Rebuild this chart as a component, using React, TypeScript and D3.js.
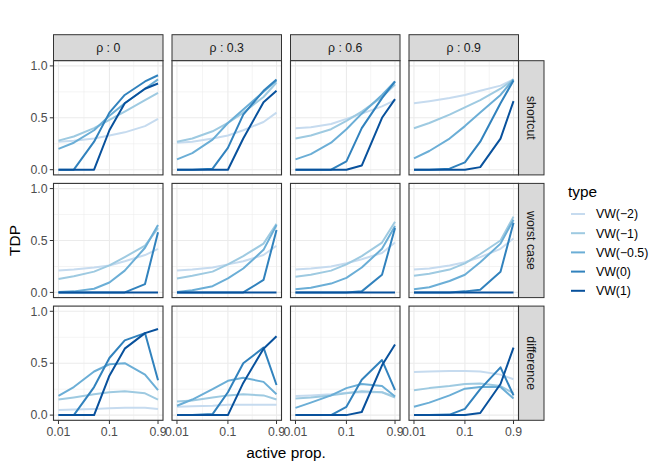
import * as d3 from 'd3';

// x grid of active proportions
const activeProp = [0.01, 0.02, 0.05, 0.1, 0.2, 0.5, 0.9];
const xBreaks = [0.01, 0.1, 0.9];
const xBreakLabels = ['0.01', '0.1', '0.9'];
const yBreaks = [0, 0.5, 1];
const yMinor = [0.25, 0.75];

const rhoLabels = ['ρ : 0', 'ρ : 0.3', 'ρ : 0.6', 'ρ : 0.9'];
const metricLabels = ['shortcut', 'worst case', 'difference'];
const typeLabels = ['VW(−2)', 'VW(−1)', 'VW(−0.5)', 'VW(0)', 'VW(1)'];
const typeColors = ['#c6dbef', '#9ecae1', '#6baed6', '#3182bd', '#08519c'];

// rows: VW(-2), VW(-1), VW(-0.5), VW(0), VW(1)
const shortcutRho0 = [
    [0.27, 0.28, 0.30, 0.33, 0.36, 0.42, 0.49],
    [0.28, 0.32, 0.40, 0.48, 0.56, 0.67, 0.74],
    [0.20, 0.26, 0.38, 0.52, 0.64, 0.78, 0.87],
    [0, 0, 0.27, 0.55, 0.72, 0.85, 0.91],
    [0, 0, 0, 0.38, 0.64, 0.78, 0.83],
];
const shortcutRho3 = [
    [0.26, 0.27, 0.30, 0.33, 0.38, 0.46, 0.55],
    [0.27, 0.30, 0.37, 0.45, 0.55, 0.70, 0.84],
    [0.10, 0.16, 0.29, 0.45, 0.58, 0.75, 0.86],
    [0, 0, 0.01, 0.21, 0.53, 0.76, 0.87],
    [0, 0, 0, 0, 0.30, 0.65, 0.76],
];
const shortcutRho6 = [
    [0.40, 0.41, 0.44, 0.49, 0.54, 0.61, 0.67],
    [0.30, 0.33, 0.39, 0.47, 0.56, 0.70, 0.82],
    [0.10, 0.15, 0.26, 0.39, 0.54, 0.72, 0.85],
    [0, 0, 0, 0.08, 0.40, 0.69, 0.85],
    [0, 0, 0, 0, 0.04, 0.50, 0.68],
];
const shortcutRho9 = [
    [0.64, 0.66, 0.69, 0.72, 0.76, 0.81, 0.87],
    [0.40, 0.45, 0.53, 0.60, 0.67, 0.78, 0.87],
    [0.11, 0.18, 0.30, 0.42, 0.55, 0.72, 0.87],
    [0, 0, 0.01, 0.07, 0.27, 0.64, 0.86],
    [0, 0, 0, 0, 0.025, 0.30, 0.66],
];

const worstRho0 = [
    [0.21, 0.22, 0.24, 0.26, 0.30, 0.36, 0.42],
    [0.13, 0.155, 0.20, 0.26, 0.34, 0.45, 0.62],
    [0.005, 0.01, 0.035, 0.095, 0.21, 0.43, 0.65],
    [0, 0, 0, 0, 0, 0.08, 0.58],
    [0, 0, 0, 0, 0, 0, 0],
];
const worstRho3 = [
    [0.21, 0.22, 0.24, 0.27, 0.30, 0.36, 0.45],
    [0.135, 0.16, 0.20, 0.27, 0.35, 0.47, 0.66],
    [0.005, 0.02, 0.06, 0.135, 0.23, 0.41, 0.65],
    [0, 0, 0, 0, 0, 0.12, 0.60],
    [0, 0, 0, 0, 0, 0, 0],
];
const worstRho6 = [
    [0.22, 0.23, 0.25, 0.28, 0.32, 0.38, 0.48],
    [0.15, 0.17, 0.21, 0.27, 0.35, 0.48, 0.68],
    [0.03, 0.045, 0.085, 0.14, 0.24, 0.42, 0.64],
    [0, 0, 0, 0, 0.01, 0.17, 0.62],
    [0, 0, 0, 0, 0, 0, 0],
];
const worstRho9 = [
    [0.22, 0.23, 0.26, 0.29, 0.34, 0.42, 0.52],
    [0.16, 0.18, 0.22, 0.28, 0.37, 0.50, 0.73],
    [0.03, 0.05, 0.11, 0.17, 0.29, 0.47, 0.70],
    [0, 0, 0, 0.01, 0.025, 0.20, 0.67],
    [0, 0, 0, 0, 0, 0, 0],
];

const diffRho0 = [
    [0.05, 0.055, 0.06, 0.065, 0.07, 0.07, 0.06],
    [0.15, 0.17, 0.20, 0.22, 0.23, 0.21, 0.15],
    [0.185, 0.27, 0.42, 0.49, 0.50, 0.39, 0.24],
    [0, 0, 0.27, 0.55, 0.72, 0.79, 0.335],
    [0, 0, 0, 0.38, 0.64, 0.79, 0.83],
];
const diffRho3 = [
    [0.08, 0.085, 0.09, 0.10, 0.10, 0.10, 0.10],
    [0.13, 0.14, 0.17, 0.19, 0.20, 0.19, 0.15],
    [0.09, 0.15, 0.25, 0.33, 0.36, 0.32, 0.20],
    [0, 0, 0.01, 0.22, 0.50, 0.65, 0.29],
    [0, 0, 0, 0, 0.31, 0.64, 0.76],
];
const diffRho6 = [
    [0.185, 0.19, 0.20, 0.215, 0.22, 0.22, 0.18],
    [0.16, 0.17, 0.19, 0.21, 0.23, 0.22, 0.17],
    [0.07, 0.12, 0.19, 0.26, 0.30, 0.28, 0.18],
    [0, 0, 0, 0.08, 0.34, 0.53, 0.24],
    [0, 0, 0, 0, 0.03, 0.48, 0.68],
];
const diffRho9 = [
    [0.415, 0.42, 0.425, 0.425, 0.42, 0.39, 0.345],
    [0.24, 0.26, 0.28, 0.30, 0.305, 0.28, 0.21],
    [0.08, 0.12, 0.19, 0.255, 0.27, 0.27, 0.16],
    [0, 0, 0.005, 0.06, 0.25, 0.46, 0.19],
    [0, 0, 0, 0, 0.02, 0.30, 0.65],
];

const panels = [
    [shortcutRho0, shortcutRho3, shortcutRho6, shortcutRho9],
    [worstRho0, worstRho3, worstRho6, worstRho9],
    [diffRho0, diffRho3, diffRho6, diffRho9],
];

const FONT = '"Liberation Sans", Arial, Helvetica, sans-serif';

export default function App() {
    const width = 664;
    const height = 470;

    const left0 = 53.5;
    const colStep = 118.5;
    const panelW = 109.5;
    const top0 = 60.7;
    const rowStep = 122.7;
    const panelH = 114.2;
    const stripH = 26;

    // ggplot style 5% expansion on the log axis
    const lo = Math.log10(0.01);
    const hi = Math.log10(0.9);
    const pad = (hi - lo) * 0.05;
    const x = d3.scaleLog()
        .domain([Math.pow(10, lo - pad), Math.pow(10, hi + pad)])
        .range([0, panelW]);
    const y = d3.scaleLinear().domain([-0.05, 1.05]).range([panelH, 0]);

    const xMinor = [
        Math.pow(10, (Math.log10(0.01) + Math.log10(0.1)) / 2),
        Math.pow(10, (Math.log10(0.1) + Math.log10(0.9)) / 2),
    ];

    const line = d3.line<number>()
        .x((_, i) => x(activeProp[i]))
        .y(d => y(d));

    const lastLeft = left0 + 3 * colStep;
    const plotRight = lastLeft + panelW;
    const bottom = top0 + 2 * rowStep + panelH;

    return (
        <svg
            width={width}
            height={height}
            style={{ position: 'absolute', left: 0, top: 0, background: '#fff', fontFamily: FONT }}
        >
            <rect width={width} height={height} fill="#fff" />

            {/* column strips */}
            {rhoLabels.map((lab, c) => (
                <g key={lab} transform={`translate(${left0 + c * colStep},${top0 - stripH})`}>
                    <rect width={panelW} height={stripH} fill="#d9d9d9" stroke="#333333" strokeWidth={1} />
                    <text x={panelW / 2} y={stripH / 2 + 4.3} textAnchor="middle" fontSize={12.3} fill="#1a1a1a">
                        {lab}
                    </text>
                </g>
            ))}

            {/* row strips */}
            {metricLabels.map((lab, r) => (
                <g key={lab} transform={`translate(${plotRight},${top0 + r * rowStep})`}>
                    <rect width={stripH - 0.5} height={panelH} fill="#d9d9d9" stroke="#333333" strokeWidth={1} />
                    <text
                        transform={`translate(${stripH / 2 - 4.3},${panelH / 2}) rotate(90)`}
                        textAnchor="middle"
                        fontSize={12.3}
                        fill="#1a1a1a"
                    >
                        {lab}
                    </text>
                </g>
            ))}

            {panels.map((row, r) =>
                row.map((series, c) => (
                    <g key={`${r}-${c}`} transform={`translate(${left0 + c * colStep},${top0 + r * rowStep})`}>
                        <rect width={panelW} height={panelH} fill="#fff" />
                        {yMinor.map(v => (
                            <line key={`ym${v}`} x1={0} x2={panelW} y1={y(v)} y2={y(v)} stroke="#ebebeb" strokeWidth={0.55} />
                        ))}
                        {xMinor.map(v => (
                            <line key={`xm${v}`} x1={x(v)} x2={x(v)} y1={0} y2={panelH} stroke="#ebebeb" strokeWidth={0.55} />
                        ))}
                        {yBreaks.map(v => (
                            <line key={`y${v}`} x1={0} x2={panelW} y1={y(v)} y2={y(v)} stroke="#ebebeb" strokeWidth={1.1} />
                        ))}
                        {xBreaks.map(v => (
                            <line key={`x${v}`} x1={x(v)} x2={x(v)} y1={0} y2={panelH} stroke="#ebebeb" strokeWidth={1.1} />
                        ))}
                        {series.map((vals, k) => (
                            <path
                                key={typeLabels[k]}
                                d={line(vals) ?? ''}
                                fill="none"
                                stroke={typeColors[k]}
                                strokeWidth={2}
                                strokeLinejoin="round"
                            />
                        ))}
                        <rect width={panelW} height={panelH} fill="none" stroke="#333333" strokeWidth={1.1} />

                        {/* y axis on first column */}
                        {c === 0 && yBreaks.map(v => (
                            <g key={`yt${v}`}>
                                <line x1={-3.7} x2={0} y1={y(v)} y2={y(v)} stroke="#333333" strokeWidth={1} />
                                <text x={-6} y={y(v) + 4.3} textAnchor="end" fontSize={12.3} fill="#4d4d4d">
                                    {v.toFixed(1)}
                                </text>
                            </g>
                        ))}

                        {/* x axis on last row */}
                        {r === 2 && xBreaks.map((v, i) => (
                            <g key={`xt${v}`}>
                                <line x1={x(v)} x2={x(v)} y1={panelH} y2={panelH + 3.7} stroke="#333333" strokeWidth={1} />
                                <text x={x(v)} y={panelH + 16} textAnchor="middle" fontSize={12.3} fill="#4d4d4d">
                                    {xBreakLabels[i]}
                                </text>
                            </g>
                        ))}
                    </g>
                ))
            )}

            {/* axis titles */}
            <text
                transform={`translate(20,${(top0 + bottom) / 2}) rotate(-90)`}
                textAnchor="middle"
                fontSize={15.4}
                fill="#000"
            >
                TDP
            </text>
            <text x={(left0 + plotRight) / 2} y={458} textAnchor="middle" fontSize={15.4} fill="#000">
                active prop.
            </text>

            {/* legend */}
            <g transform="translate(568,0)">
                <text x={0} y={197} fontSize={15.4} fill="#000">type</text>
                {typeLabels.map((lab, k) => (
                    <g key={lab} transform={`translate(0,${214 + k * 19.2})`}>
                        <line x1={3} x2={17} y1={0} y2={0} stroke={typeColors[k]} strokeWidth={2} />
                        <text x={28} y={4.3} fontSize={12.3} fill="#000">{lab}</text>
                    </g>
                ))}
            </g>
        </svg>
    );
}
